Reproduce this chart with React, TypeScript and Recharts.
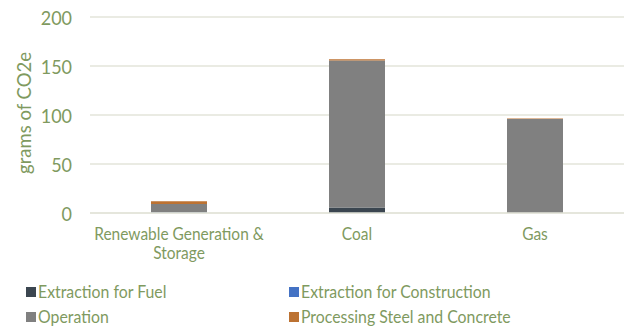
import { BarChart, Bar, XAxis, YAxis, CartesianGrid, Text } from 'recharts';

const categories = ['Renewable Generation & Storage', 'Coal', 'Gas'];
const extractionFuel = [0, 5.5, 0];
const extractionConstruction = [0.6, 0, 0];
const operation = [8.5, 150, 96];
const processingSteel = [3, 1.5, 0.5];
const yTicks = [0, 50, 100, 150, 200];

const series = [
  { key: 'fuel', name: 'Extraction for Fuel', color: '#3b4650', values: extractionFuel },
  { key: 'construction', name: 'Extraction for Construction', color: '#4472c4', values: extractionConstruction },
  { key: 'operation', name: 'Operation', color: '#808080', values: operation },
  { key: 'processing', name: 'Processing Steel and Concrete', color: '#bc7232', values: processingSteel },
];

const data = categories.map((category, i) => {
  const row: Record<string, string | number> = { category };
  series.forEach((s) => {
    row[s.key] = s.values[i];
  });
  return row;
});

const GREEN = '#7f9a5f';
const GRID = '#e3e5da';
const FONT = 'Lato, sans-serif';
// labels are set a little narrower than the plain face
const SQUEEZE = 0.9;

function CategoryTick(props: any) {
  const { x, y, payload } = props;
  return (
    <g transform={`translate(${x}, ${y}) scale(${SQUEEZE}, 1)`}>
      <Text
        x={0}
        y={0}
        width={182 / SQUEEZE}
        textAnchor="middle"
        verticalAnchor="start"
        lineHeight="1.12em"
        fill={GREEN}
        fontSize={17.2}
        fontFamily={FONT}
      >
        {payload.value}
      </Text>
    </g>
  );
}

function ValueTick(props: any) {
  const { x, y, payload } = props;
  return (
    <g transform={`translate(${x}, ${y}) scale(${SQUEEZE}, 1)`}>
      <text x={0} y={0} textAnchor="end" dominantBaseline="central" fill={GREEN} fontSize={20} fontFamily={FONT}>
        {payload.value}
      </text>
    </g>
  );
}

function AxisTitle(props: any) {
  const { viewBox } = props;
  const cx = viewBox.x + 24;
  const cy = viewBox.y + viewBox.height / 2 - 2;
  return (
    <g transform={`translate(${cx}, ${cy}) rotate(-90)`}>
      <text x={0} y={0} textAnchor="middle" dominantBaseline="central" fill={GREEN} fontSize={18.5} fontFamily={FONT}>
        grams of CO2e
      </text>
    </g>
  );
}

export default function App() {
  return (
    <div style={{ position: 'absolute', left: 0, top: 0, width: 627, height: 331, background: '#fff', fontFamily: FONT }}>
      <BarChart width={627} height={270} data={data} margin={{ top: 17, right: 3, bottom: 17, left: 0 }}>
        <CartesianGrid vertical={false} stroke={GRID} strokeWidth={1.5} />
        <XAxis
          dataKey="category"
          height={40}
          axisLine={{ stroke: GRID, strokeWidth: 1.5 }}
          tickLine={false}
          tickSize={0}
          tickMargin={15}
          interval={0}
          tick={<CategoryTick />}
        />
        <YAxis
          width={90}
          domain={[0, 200]}
          ticks={yTicks}
          axisLine={false}
          tickLine={false}
          tickSize={0}
          tickMargin={18}
          tick={<ValueTick />}
          label={<AxisTitle />}
        />
        {series.map((s) => (
          <Bar key={s.key} dataKey={s.key} name={s.name} stackId="a" fill={s.color} barSize={56} isAnimationActive={false} />
        ))}
      </BarChart>
      <div
        style={{
          display: 'grid',
          gridTemplateColumns: '263px 330px',
          paddingLeft: 26,
          rowGap: 4,
          marginTop: 11,
          color: GREEN,
          fontSize: 17.6,
          lineHeight: '21px',
        }}
      >
        {series.map((s) => (
          <div key={s.key} style={{ display: 'flex', alignItems: 'center' }}>
            <span style={{ width: 10, height: 10, background: s.color, marginRight: 2, display: 'inline-block', flex: 'none' }} />
            <span style={{ display: 'inline-block', transform: `scaleX(${SQUEEZE})`, transformOrigin: 'left center', whiteSpace: 'nowrap' }}>
              {s.name}
            </span>
          </div>
        ))}
      </div>
    </div>
  );
}
